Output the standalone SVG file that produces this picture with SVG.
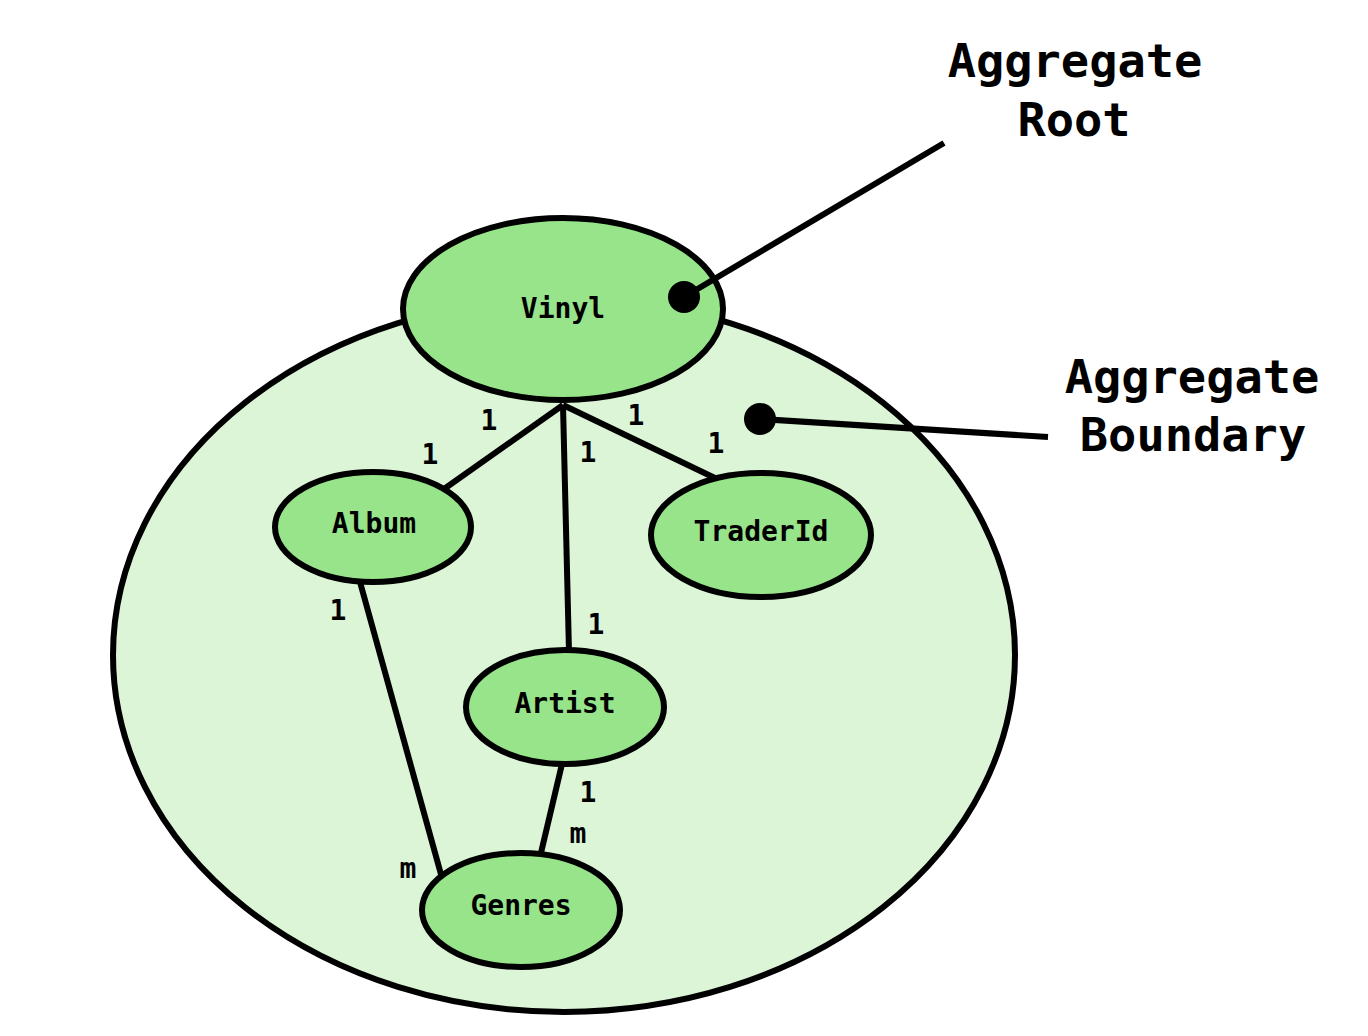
<svg xmlns="http://www.w3.org/2000/svg" width="1368" height="1036" viewBox="0 0 1368 1036">
<style>
.node{fill:#98e48a;stroke:#000;stroke-width:6}
.t{font-family:"DejaVu Sans Mono","Liberation Mono",monospace;font-weight:bold;fill:#000;text-anchor:middle}
.nt{font-size:28px}
.lt{font-size:28px}
.big{font-size:47px}
.c{stroke:#000;stroke-width:6;fill:none}
</style>
<rect width="1368" height="1036" fill="#fff"/>
<g id="boundary">
<ellipse cx="564" cy="655" rx="451" ry="357" fill="#dcf5d7" stroke="#000" stroke-width="6"/>
</g>
<g id="connectors">
<line class="c" x1="563" y1="405" x2="444" y2="489"/>
<line class="c" x1="563" y1="405" x2="569" y2="652"/>
<line class="c" x1="563" y1="405" x2="717" y2="479"/>
<line class="c" x1="360" y1="582" x2="442" y2="878"/>
<line class="c" x1="562" y1="764" x2="540" y2="857"/>
</g>
<g id="labels">
<text class="t lt" x="489" y="430">1</text>
<text class="t lt" x="430" y="464">1</text>
<text class="t lt" x="636" y="425">1</text>
<text class="t lt" x="588" y="462">1</text>
<text class="t lt" x="716" y="453">1</text>
<text class="t lt" x="338" y="620">1</text>
<text class="t lt" x="596" y="634">1</text>
<text class="t lt" x="588" y="802">1</text>
<text class="t lt" x="578" y="843">m</text>
<text class="t lt" x="408" y="878">m</text>
</g>
<g id="vinyl">
<ellipse class="node" cx="563" cy="309" rx="160" ry="91"/>
<text class="t nt" x="563" y="318">Vinyl</text>
</g>
<g id="album">
<ellipse class="node" cx="373" cy="527" rx="98" ry="55"/>
<text class="t nt" x="374" y="533">Album</text>
</g>
<g id="traderid">
<ellipse class="node" cx="761" cy="535" rx="110" ry="62"/>
<text class="t nt" x="761" y="541">TraderId</text>
</g>
<g id="artist">
<ellipse class="node" cx="565" cy="707" rx="99" ry="57"/>
<text class="t nt" x="565" y="713">Artist</text>
</g>
<g id="genres">
<ellipse class="node" cx="521" cy="910" rx="99" ry="57"/>
<text class="t nt" x="521" y="915">Genres</text>
</g>
<g id="annotations">
<line class="c" x1="944" y1="143" x2="684" y2="297"/>
<circle cx="684" cy="297" r="16" fill="#000"/>
<line class="c" x1="1048" y1="437" x2="760" y2="419"/>
<circle cx="760" cy="419" r="16" fill="#000"/>
<text class="t big" x="1075" y="77">Aggregate</text>
<text class="t big" x="1074" y="136">Root</text>
<text class="t big" x="1192" y="393">Aggregate</text>
<text class="t big" x="1193" y="451">Boundary</text>
</g>
</svg>
